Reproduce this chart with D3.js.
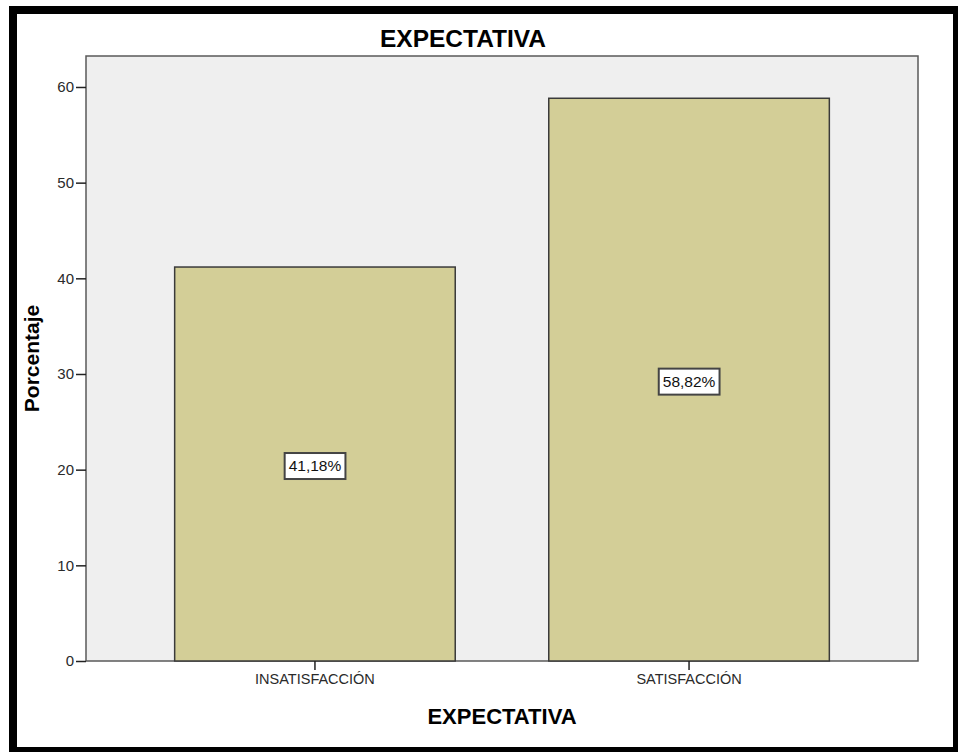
<!DOCTYPE html>
<html>
<head>
<meta charset="utf-8">
<script src="https://cdn.jsdelivr.net/npm/d3@7"></script>
<style>
  body { margin: 0; background: #fff; }
  text { font-family: "Liberation Sans", Arial, sans-serif; }
</style>
</head>
<body>
<div id="chart"></div>
<script>
// data
const categories = ["INSATISFACCIÓN", "SATISFACCIÓN"];
const percentages = [41.18, 58.82];
const valueLabels = ["41,18%", "58,82%"];
const yTicks = [0, 10, 20, 30, 40, 50, 60];

const width = 958;
const height = 752;
const plot = { left: 86, right: 918, top: 56, bottom: 661 };

const svg = d3.select("#chart")
    .append("svg")
    .attr("width", width)
    .attr("height", height);

// black frame round the picture
svg.append("rect")
    .attr("x", 13).attr("y", 10)
    .attr("width", 944).attr("height", 741)
    .attr("fill", "#fff")
    .attr("stroke", "#000")
    .attr("stroke-width", 8);

// scales
const x = d3.scaleBand()
    .domain(categories)
    .range([plot.left, plot.right])
    .paddingInner(0.25)
    .paddingOuter(0.237);

const y = d3.scaleLinear()
    .domain([0, 60])
    .range([plot.bottom, plot.bottom - 60 * 9.567]);

// plot background
svg.append("rect")
    .attr("x", plot.left).attr("y", plot.top)
    .attr("width", plot.right - plot.left)
    .attr("height", plot.bottom - plot.top)
    .attr("fill", "#efefef")
    .attr("stroke", "#5a5a5a")
    .attr("stroke-width", 1.5);

// bars
svg.selectAll(".bar")
    .data(percentages)
    .enter()
    .append("rect")
    .attr("class", "bar")
    .attr("x", (d, i) => x(categories[i]))
    .attr("y", d => y(d))
    .attr("width", x.bandwidth())
    .attr("height", d => y(0) - y(d))
    .attr("fill", "#d3ce97")
    .attr("stroke", "#3a3a3a")
    .attr("stroke-width", 1.5);

// y axis
const yAxis = svg.append("g")
    .attr("transform", `translate(${plot.left},0)`)
    .call(d3.axisLeft(y).tickValues(yTicks).tickSize(10).tickPadding(2));
yAxis.select(".domain").remove();
yAxis.selectAll("line").attr("stroke", "#222").attr("stroke-width", 1.5);
yAxis.selectAll("text")
    .attr("font-size", 15)
    .attr("fill", "#2a2a2a")
    .style("font-family", '"Liberation Sans", Arial, sans-serif');

// x axis
const xAxis = svg.append("g")
    .attr("transform", `translate(0,${plot.bottom})`)
    .call(d3.axisBottom(x).tickSize(9).tickPadding(4));
xAxis.select(".domain").remove();
xAxis.selectAll("line").attr("stroke", "#222").attr("stroke-width", 1.5);
xAxis.selectAll("text")
    .attr("font-size", 14.5)
    .attr("fill", "#2a2a2a")
    .style("font-family", '"Liberation Sans", Arial, sans-serif');

// value labels in boxes
const labels = svg.selectAll(".vlabel")
    .data(percentages)
    .enter()
    .append("g")
    .attr("class", "vlabel")
    .attr("transform", (d, i) =>
        `translate(${x(categories[i]) + x.bandwidth() / 2},${y(d / 2) + 2})`);

labels.append("text")
    .attr("text-anchor", "middle")
    .attr("dy", "0.35em")
    .attr("font-size", 15.5)
    .attr("fill", "#111")
    .text((d, i) => valueLabels[i]);

labels.each(function() {
    const g = d3.select(this);
    const bb = g.select("text").node().getBBox();
    g.insert("rect", "text")
        .attr("x", bb.x - 4)
        .attr("y", -13)
        .attr("width", bb.width + 8)
        .attr("height", 26)
        .attr("fill", "#fff")
        .attr("stroke", "#444")
        .attr("stroke-width", 2);
});

// titles
svg.append("text")
    .attr("x", 463).attr("y", 47)
    .attr("text-anchor", "middle")
    .attr("font-size", 24.5)
    .attr("font-weight", "bold")
    .text("EXPECTATIVA");

svg.append("text")
    .attr("x", (plot.left + plot.right) / 2).attr("y", 724)
    .attr("text-anchor", "middle")
    .attr("font-size", 22)
    .attr("font-weight", "bold")
    .text("EXPECTATIVA");

svg.append("text")
    .attr("transform", `translate(39,${(plot.top + plot.bottom) / 2}) rotate(-90)`)
    .attr("text-anchor", "middle")
    .attr("font-size", 21)
    .attr("font-weight", "bold")
    .text("Porcentaje");
</script>
</body>
</html>
